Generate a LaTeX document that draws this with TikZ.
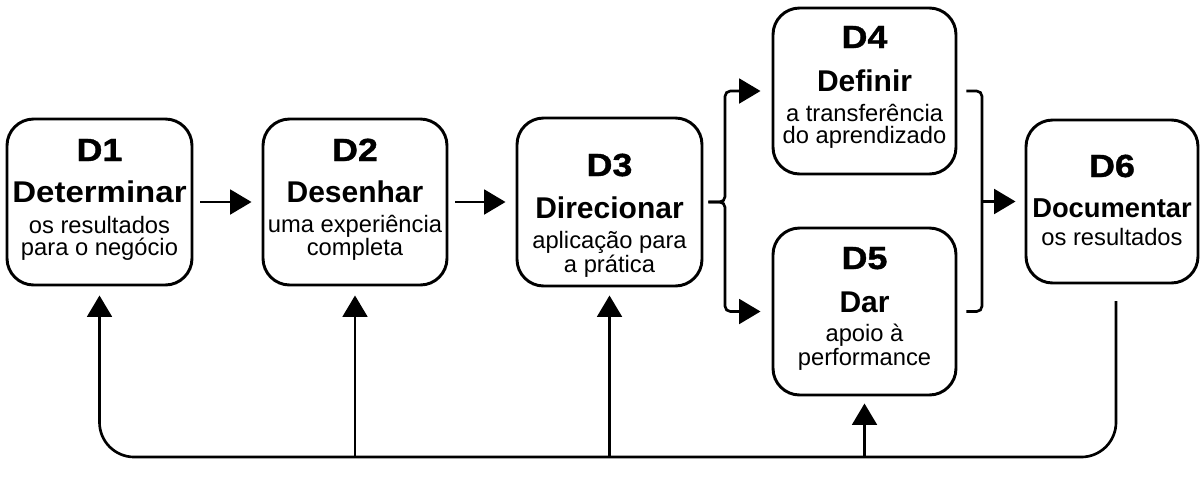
\documentclass[tikz,border=0pt]{standalone}
\usepackage{fontspec}
\setmainfont{Liberation Sans}
\newfontfamily\headfont{Liberation Sans}[FakeStretch=1.12,FakeBold=1.2]
\usetikzlibrary{arrows.meta,calc}
\begin{document}
\begin{tikzpicture}[x=0.75pt,y=-0.75pt,
  stage/.style={draw, line width=2.2pt, rounded corners=20pt, inner sep=0pt},
  title/.style={anchor=base, inner sep=0pt, font=\headfont\bfseries\fontsize{24}{24}\selectfont},
  verb/.style={anchor=base, inner sep=0pt, font=\bfseries\fontsize{22.5}{22.5}\selectfont},
  note/.style={anchor=base, inner sep=0pt, font=\fontsize{17.8}{17.8}\selectfont},
  link/.style={line width=2pt},
  arr/.style={link, -{Triangle[length=16pt,width=18.5pt]}},
]
\useasboundingbox (0,0) rectangle (1202,476);

% stage boxes
\node[stage, minimum width=138.75pt, minimum height=124.5pt] (d1) at (99.5,202) {};
\node[stage, minimum width=138pt,    minimum height=124.5pt] (d2) at (355,202) {};
\node[stage, minimum width=138.75pt, minimum height=126pt]   (d3) at (609.5,202) {};
\node[stage, minimum width=137.25pt, minimum height=124.5pt] (d4) at (864.5,91) {};
\node[stage, minimum width=137.25pt, minimum height=125.25pt] (d5) at (864.5,311.5) {};
\node[stage, minimum width=129pt,    minimum height=122.25pt] (d6) at (1112,201.5) {};

% stage texts
\node[title] (d1t) at (99.5,161) {D1};
\node[verb]  (d1v) at (99.5,202) {\scalebox{1.1}[1]{Determinar}};
\node[note]  (d1a) at (99.5,233) {os resultados};
\node[note]  (d1b) at (99.5,255) {para o negócio};

\node[title] (d2t) at (355,161) {D2};
\node[verb]  (d2v) at (355,202) {Desenhar};
\node[note]  (d2a) at (355,232) {uma experiência};
\node[note]  (d2b) at (355,255) {completa};

\node[title] (d3t) at (609.5,176) {D3};
\node[verb]  (d3v) at (609.5,218) {Direcionar};
\node[note]  (d3a) at (609.5,248) {aplicação para};
\node[note]  (d3b) at (609.5,272) {a prática};

\node[title] (d4t) at (864.5,48) {D4};
\node[verb]  (d4v) at (864.5,91) {Definir};
\node[note]  (d4a) at (864.5,121) {a transferência};
\node[note]  (d4b) at (864.5,143) {do aprendizado};

\node[title] (d5t) at (864.5,269) {D5};
\node[verb]  (d5v) at (864.5,312) {Dar};
\node[note]  (d5a) at (864.5,341) {apoio à};
\node[note]  (d5b) at (864.5,365) {performance};

\node[title] (d6t) at (1112,177) {D6};
\node[verb, font=\bfseries\fontsize{20.5}{20.5}\selectfont] (d6v) at (1112,217) {Documentar};
\node[note]  (d6a) at (1112,245) {os resultados};

% forward flow
\draw[arr, shorten <=5.25pt, shorten >=7.5pt] (d1) -- (d2);
\draw[arr, shorten <=5.25pt, shorten >=7.5pt] (d2) -- (d3);

% split towards D4 and D5
\coordinate (split) at (725,202);
\draw[arr, rounded corners=4pt, shorten <=3.75pt, shorten >=8.25pt] (d3.east) -- (split) |- (d4.west);
\draw[arr, rounded corners=4pt, shorten <=3.75pt, shorten >=8.25pt] (d3.east) -- (split) |- (d5.west);

% bracket joining D4 and D5 into D6
\coordinate (m4) at ($(d4.east)+(9,0)$);
\coordinate (m5) at ($(d5.east)+(9,0)$);
\coordinate (join) at (982,201.5);
\draw[link, rounded corners=4pt] (m4) -- (m4 -| join) -- (m5 -| join) -- (m5);
\draw[arr, shorten >=6.75pt] (join) -- (d6.west);

% feedback loop
\coordinate (bot) at (0,457);
\coordinate (f6) at (1116,301);
\draw[arr, rounded corners=26pt, shorten >=6.75pt] (f6) |- (d1.south |- bot) -- (d1.south);
\draw[arr, shorten >=6.75pt] (d2.south |- bot) -- (d2.south);
\draw[arr, shorten >=6pt] (d3.south |- bot) -- (d3.south);
\draw[arr, shorten >=5.25pt] (d5.south |- bot) -- (d5.south);
\end{tikzpicture}
\end{document}
